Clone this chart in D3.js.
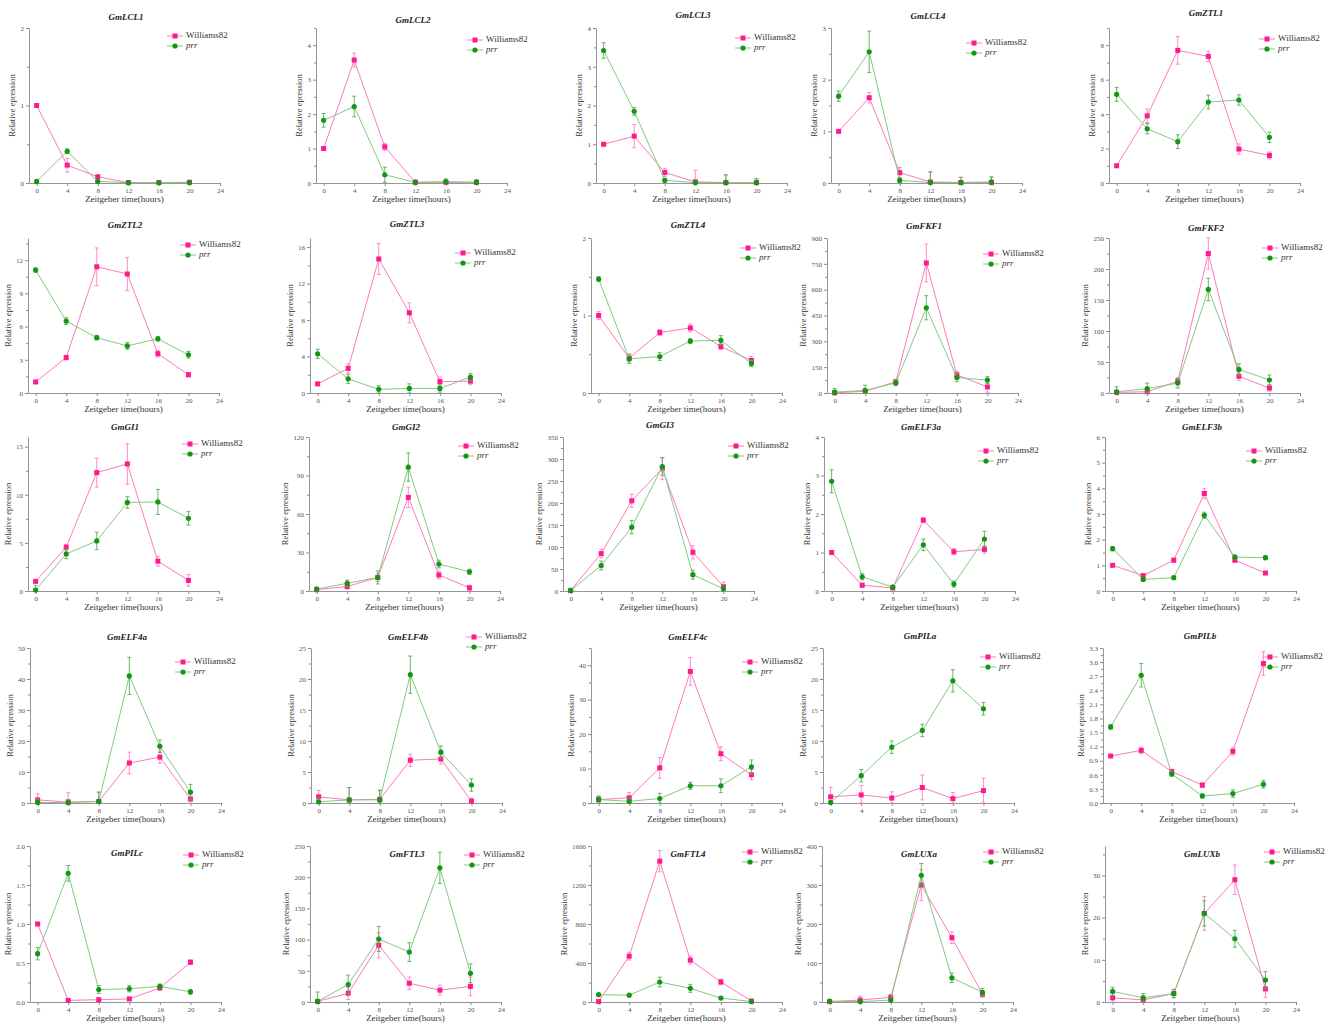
<!DOCTYPE html>
<html><head><meta charset="utf-8">
<script src="https://cdn.jsdelivr.net/npm/d3@7"></script>
<style>body{margin:0;background:#fff}</style>
</head><body>
<svg id="c" width="1325" height="1026"></svg>
<script>
// ---------------- DATA ----------------
const genes = ["GmLCL1","GmLCL2","GmLCL3","GmLCL4","GmZTL1",
  "GmZTL2","GmZTL3","GmZTL4","GmFKF1","GmFKF2",
  "GmGI1","GmGI2","GmGI3","GmELF3a","GmELF3b",
  "GmELF4a","GmELF4b","GmELF4c","GmPILa","GmPILb",
  "GmPILc","GmFTL3","GmFTL4","GmLUXa","GmLUXb"];
const hours = [0,4,8,12,16,20];
const xTicks = [0,4,8,12,16,20,24];
const seriesNames = ["Williams82","prr"];

const wtMean = [
  [1.0,0.23,0.08,0.005,0.005,0.01],
  [1.0,3.57,1.05,0.02,0.02,0.02],
  [1.0,1.21,0.27,0.03,0.01,0.01],
  [1.0,1.65,0.2,0.02,0.01,0.01],
  [1.0,3.9,7.7,7.35,1.97,1.6],
  [1.0,3.2,11.4,10.75,3.55,1.65],
  [1.0,2.7,14.7,8.8,1.25,1.3],
  [1.0,0.45,0.78,0.84,0.6,0.42],
  [1,10,65,755,105,35],
  [1,2,19,225,27,8],
  [1.0,4.55,12.3,13.2,3.1,1.1],
  [1,3.5,10.5,73,12.5,2.5],
  [1,85,205,278,88,10],
  [1.0,0.15,0.08,1.84,1.02,1.08],
  [1.0,0.6,1.2,3.8,1.2,0.7],
  [1.0,0.3,0.5,12.9,14.8,1.3],
  [1.0,0.5,0.6,6.9,7.1,0.3],
  [1.0,1.5,10.2,38.2,14.3,8.2],
  [1.0,1.3,0.8,2.5,0.7,2.0],
  [1.0,1.12,0.67,0.38,1.1,2.97],
  [1.0,0.02,0.03,0.04,0.18,0.51],
  [1,14,91,30,19,25],
  [5,470,1445,430,205,10],
  [1,5,12,300,165,20],
  [1,0.5,2.0,21,29,3.1]
];
const wtErr = [
  [0.01,0.09,0.02,0.005,0,0.01],
  [0.02,0.2,0.1,0.08,0.05,0.05],
  [0.02,0.3,0.1,0.3,0.2,0.1],
  [0.02,0.1,0.1,0.2,0.1,0.1],
  [0.05,0.4,0.8,0.3,0.3,0.2],
  [0.05,0.2,1.7,1.5,0.3,0.2],
  [0.05,0.5,1.7,1.1,0.5,0.4],
  [0.05,0.05,0.04,0.05,0.04,0.05],
  [2,10,10,110,20,30],
  [1,3,5,25,7,5],
  [0.05,0.3,1.5,2.1,0.5,0.6],
  [1,2,3,8,3,2],
  [5,10,15,25,15,10],
  [0.03,0.05,0.05,0.06,0.08,0.1],
  [0.03,0.05,0.08,0.2,0.08,0.05],
  [2,3,3,3.5,2,2],
  [1,2,1.5,1,0.8,0.5],
  [1,1.5,3,4,2,1.5],
  [1.5,1.5,1,2,1,2],
  [0.03,0.07,0.05,0.05,0.08,0.25],
  [0.02,0.01,0.01,0.01,0.03,0.03],
  [2,10,20,10,8,15],
  [10,40,110,40,30,10],
  [2,10,8,40,15,8],
  [1,1,1,4,3.5,2]
];
const prrMean = [
  [0.02,0.41,0.02,0.005,0.005,0.005],
  [1.82,2.22,0.24,0.02,0.04,0.02],
  [3.42,1.85,0.07,0.01,0.01,0.01],
  [1.68,2.54,0.05,0.01,0.01,0.02],
  [5.15,3.15,2.4,4.7,4.82,2.65],
  [11.1,6.5,5.0,4.25,4.9,3.45],
  [4.3,1.55,0.4,0.5,0.5,1.75],
  [1.47,0.44,0.47,0.67,0.68,0.38],
  [5,15,58,495,90,75],
  [2,7,16,167,38,21],
  [0.1,3.85,5.2,9.2,9.25,7.55],
  [1.5,6,10.5,96.5,21,15],
  [1,58,145,283,37,5],
  [2.85,0.37,0.1,1.2,0.18,1.35],
  [1.65,0.45,0.52,2.95,1.32,1.3],
  [0.2,0.1,0.5,41,18.3,3.5],
  [0.2,0.5,0.5,20.7,8.2,2.9],
  [1.0,0.5,1.3,5.0,5.0,10.5],
  [0.1,4.4,9.0,11.7,19.7,15.2],
  [1.62,2.72,0.62,0.15,0.2,0.4],
  [0.62,1.65,0.16,0.17,0.2,0.13],
  [1,28,101,80,215,46],
  [75,70,205,140,40,5],
  [2,1,5,325,62,25],
  [2.5,1,2,21,15,5.2]
];
const prrErr = [
  [0.02,0.03,0.01,0,0,0],
  [0.2,0.3,0.22,0.05,0.08,0.08],
  [0.2,0.1,0.05,0.05,0.2,0.1],
  [0.1,0.4,0.05,0.2,0.1,0.1],
  [0.4,0.3,0.4,0.4,0.3,0.3],
  [0.2,0.3,0.2,0.3,0.2,0.3],
  [0.5,0.5,0.4,0.5,0.4,0.4],
  [0.03,0.06,0.05,0.03,0.06,0.04],
  [20,30,15,70,25,20],
  [8,9,8,18,9,8],
  [0.5,0.5,0.9,0.6,1.3,0.7],
  [1.5,2.5,5,11,3,2],
  [5,10,15,20,10,10],
  [0.3,0.08,0.05,0.15,0.08,0.2],
  [0.08,0.05,0.06,0.12,0.08,0.08],
  [1,1,3,6,2,2.5],
  [0.5,2,1.5,3,1,1],
  [1,0.8,1.5,1,2,2],
  [0.2,1,1,1,1.8,1],
  [0.05,0.25,0.05,0.04,0.08,0.08],
  [0.08,0.1,0.05,0.04,0.03,0.03],
  [15,15,20,15,25,15],
  [10,10,50,40,15,5],
  [2,3,5,30,12,10],
  [1,1,1,3,2,2]
];
const yMax  = [2,4.5,4,3,9, 14,17,2,900,250, 16,120,350,4,6, 50,25,45,25,3.3, 2,250,1600,400,37];
const yStep = [1,1,1,1,2, 3,4,1,150,50, 5,30,50,1,1, 10,5,10,5,0.3, 0.5,50,400,100,10];
const yDecimals = [0,0,0,0,0, 0,0,0,0,0, 0,0,0,0,0, 0,0,0,0,1, 1,0,0,0,0];

// ---------------- LAYOUT ----------------
const panelLeft = [29,316,596,831,1109, 28,310,591,827,1109, 28,309,563,824,1105, 30,311,591,823,1103, 30,310,591,822,1105];
const rowTop = [28,238,437,648,846];
const rowBottom = [183,393,591,803,1002];
const plotW = 191;
const titleY = [18,21,16,17,14, 226,225,226,227,229, 428,428,426,428,428, 638,638,638,637,637, 854,855,855,855,855];
const legendDx = [138,151,139,135,150, 152,145,149,156,153, 154,149,165,154,141, 145,155,151,157,159, 153,154,151,161,159];
const legendY = [36,40,38,43,39, 245,253,248,254,248, 444,446,446,451,451, 662,637,662,657,657, 855,855,852,852,852];

const pinkLine = "#ff7ab8", pinkMark = "#ff1a8c", pinkErr = "#ff80bf";
const greenLine = "#7fcc7f", greenMark = "#139613", greenErr = "#55b055";
const FONT = "'Liberation Serif','Times New Roman',serif";

const svg = d3.select("#c");
svg.append("rect").attr("width",1325).attr("height",1026).attr("fill","#fff");

genes.forEach((g, i) => {
  const row = Math.floor(i/5);
  const L = panelLeft[i], T = rowTop[row], B = rowBottom[row], R = L + plotW;
  const x = d3.scaleLinear().domain([-1,24]).range([L,R]);
  const y = d3.scaleLinear().domain([0,yMax[i]]).range([B,T]);
  const gp = svg.append("g");

  const nMaj = Math.floor(yMax[i]/yStep[i] + 1e-6);
  const major = d3.range(0, nMaj+1).map(k => +(k*yStep[i]).toFixed(4));
  const minor = d3.range(0, nMaj+1).map(k => +((k+0.5)*yStep[i]).toFixed(4)).filter(v => v <= yMax[i]+1e-9);
  const fmt = d3.format("." + yDecimals[i] + "f");

  const ya = gp.append("g").attr("transform",`translate(${L},0)`)
    .call(d3.axisLeft(y).tickValues(major).tickSize(3).tickSizeOuter(0).tickFormat(fmt));
  gp.append("g").attr("transform",`translate(${L},0)`)
    .call(d3.axisLeft(y).tickValues(minor).tickSize(2).tickSizeOuter(0).tickFormat(""))
    .select(".domain").remove();
  const xa = gp.append("g").attr("transform",`translate(0,${B})`)
    .call(d3.axisBottom(x).tickValues(xTicks).tickSize(3).tickSizeOuter(0));
  [ya, xa].forEach(a => {
    a.select(".domain").attr("stroke","#8a8a8a").attr("stroke-width",0.9);
    a.selectAll(".tick text").attr("fill","#555").style("font-family",FONT).style("font-size","7px");
  });
  gp.selectAll(".tick line").attr("stroke","#8a8a8a");
  ya.selectAll(".tick text").attr("x",-5);
  xa.selectAll(".tick text").attr("y",5);

  gp.append("text").attr("x", L+97).attr("y", titleY[i]).attr("text-anchor","middle")
    .attr("dominant-baseline","middle").style("font-family",FONT).style("font-size","9px")
    .style("font-weight","bold").style("font-style","italic").attr("fill","#222").text(g);
  gp.append("text").attr("x",(L+R)/2).attr("y",B+17).attr("text-anchor","middle")
    .attr("dominant-baseline","middle").style("font-family",FONT).style("font-size","9px")
    .attr("fill","#333").text("Zeitgeber time(hours)");
  const tw = ya.node().getBBox().width;
  const ylx = L - tw - 5;
  gp.append("text").attr("transform",`translate(${ylx},${(T+B)/2}) rotate(-90)`)
    .attr("text-anchor","middle").style("font-family",FONT).style("font-size","8.5px")
    .attr("fill","#333").text("Relative epression");

  const series = [
    {mean: wtMean[i], err: wtErr[i], line: pinkLine, mark: pinkMark, eb: pinkErr, shape: "sq"},
    {mean: prrMean[i], err: prrErr[i], line: greenLine, mark: greenMark, eb: greenErr, shape: "ci"}
  ];
  series.forEach(s => {
    const pts = hours.map((h,k) => ({h, v: s.mean[k], e: s.err[k]}));
    gp.append("path").datum(pts).attr("fill","none").attr("stroke",s.line).attr("stroke-width",1)
      .attr("d", d3.line().x(d => x(d.h)).y(d => y(d.v)));
    const eg = gp.append("g").attr("stroke",s.eb).attr("stroke-width",0.9);
    pts.forEach(d => {
      if (!d.e) return;
      const y1 = y(Math.min(d.v + d.e, yMax[i])), y0 = y(Math.max(d.v - d.e, 0));
      eg.append("line").attr("x1",x(d.h)).attr("x2",x(d.h)).attr("y1",y1).attr("y2",y0);
      eg.append("line").attr("x1",x(d.h)-2).attr("x2",x(d.h)+2).attr("y1",y1).attr("y2",y1);
      eg.append("line").attr("x1",x(d.h)-2).attr("x2",x(d.h)+2).attr("y1",y0).attr("y2",y0);
    });
    pts.forEach(d => {
      if (s.shape === "sq") gp.append("rect").attr("x",x(d.h)-2.5).attr("y",y(d.v)-2.5)
        .attr("width",5).attr("height",5).attr("fill",s.mark);
      else gp.append("circle").attr("cx",x(d.h)).attr("cy",y(d.v)).attr("r",2.6).attr("fill",s.mark);
    });
  });

  const lx = L + legendDx[i];
  series.forEach((s, k) => {
    const ly = legendY[i] + k*10;
    gp.append("line").attr("x1",lx).attr("x2",lx+16).attr("y1",ly).attr("y2",ly)
      .attr("stroke",s.line).attr("stroke-width",1);
    if (s.shape === "sq") gp.append("rect").attr("x",lx+8-2.5).attr("y",ly-2.5).attr("width",5).attr("height",5).attr("fill",s.mark);
    else gp.append("circle").attr("cx",lx+8).attr("cy",ly).attr("r",2.6).attr("fill",s.mark);
    gp.append("text").attr("x",lx+19).attr("y",ly).attr("dominant-baseline","middle")
      .style("font-family",FONT).style("font-size","9px").attr("fill","#333")
      .style("font-style", k===1 ? "italic" : "normal").text(seriesNames[k]);
  });
});
</script>
</body></html>
